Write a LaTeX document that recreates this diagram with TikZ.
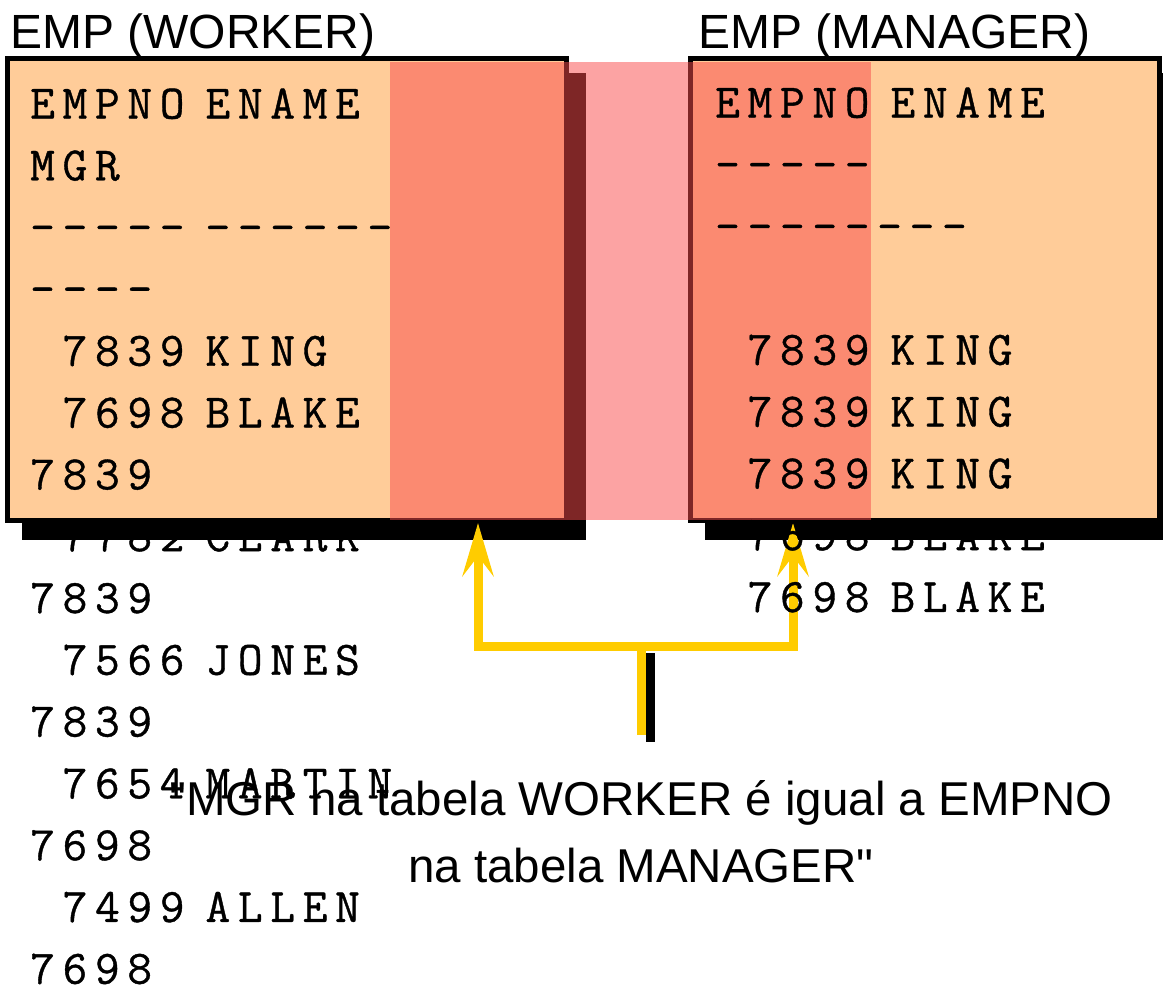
\documentclass[tikz,border=0pt]{standalone}
\usepackage{fontspec}
\setmainfont[Ligatures=TeXOff]{Liberation Sans}
\newfontfamily\sqlfont[LetterSpace=16,Ligatures=TeXOff,FakeBold=0.8]{Latin Modern Mono}
\usetikzlibrary{arrows.meta, shadows}

\definecolor{peach}{HTML}{FFCC99}
\definecolor{veilred}{RGB}{249,75,75}
\definecolor{linkyellow}{HTML}{FFCC00}

\begin{document}
\begin{tikzpicture}[
    x=1pt, y=-1pt,
    table/.style={rectangle, draw=black, line width=5pt, fill=peach, inner sep=0pt,
      drop shadow={shadow xshift=17pt, shadow yshift=-17pt, fill=black, draw=black, opacity=1}},
    title/.style={anchor=base west, inner sep=0pt, font=\fontsize{48}{58}\selectfont},
    rows/.style={anchor=base west, inner sep=0pt, font=\sqlfont\fontsize{48}{61.8}\selectfont},
    veil/.style={rectangle, draw=none, fill=veilred, fill opacity=0.51, inner sep=0pt},
    link/.style={draw=linkyellow, line width=9pt, -{Stealth[length=53pt, width=31pt, inset=20pt]}},
    stemshadow/.style={draw=black, line width=9pt},
    caption/.style={align=center, inner sep=0pt, font=\fontsize{47.5}{67}\selectfont}
  ]
    \useasboundingbox (0,0) rectangle (1163,986);

    \node[title] (workertitle) at (10,48) {EMP (WORKER)};
    \node[title] (managertitle) at (698,48) {EMP (MANAGER)};

    \node[table, minimum width=559pt, minimum height=462pt] (worker) at (287,289.5) {};
    \node[table, minimum width=469pt, minimum height=462pt] (manager) at (925,289.5) {};

    % join columns MGR = EMPNO
    \node[veil, minimum width=481pt, minimum height=458pt] (join) at (630.5,291) {};

    \coordinate (workerkey) at (478,523);
    \coordinate (managerkey) at (793,523);
    \coordinate (fork) at (641,646);
    \coordinate (stem) at (641,735);

    \draw[stemshadow] ([shift={(9pt,-7pt)}]fork) -- ([shift={(9pt,-7pt)}]stem);
    \draw[link] (stem) -- (fork) -| (workerkey);
    \draw[link] (fork) -| (managerkey);

    \node[rows] (workerrows) at (30,118.5) {\begin{tabular}[t]{@{}r@{\hspace{21pt}}l@{}}
      EMPNO & ENAME\\
      \multicolumn{2}{@{}l@{}}{MGR}\\
      ----- & ------\\
      \multicolumn{2}{@{}l@{}}{----}\\
      7839 & KING\\
      7698 & BLAKE\\
      \multicolumn{2}{@{}l@{}}{7839}\\
      7782 & CLARK\\
      \multicolumn{2}{@{}l@{}}{7839}\\
      7566 & JONES\\
      \multicolumn{2}{@{}l@{}}{7839}\\
      7654 & MARTIN\\
      \multicolumn{2}{@{}l@{}}{7698}\\
      7499 & ALLEN\\
      \multicolumn{2}{@{}l@{}}{7698}
    \end{tabular}};

    \node[rows] (managerrows) at (715,117.5) {\begin{tabular}[t]{@{}r@{\hspace{21pt}}l@{}}
      EMPNO & ENAME\\
      \multicolumn{2}{@{}l@{}}{-----}\\
      \multicolumn{2}{@{}l@{}}{--------}\\
      & \\
      7839 & KING\\
      7839 & KING\\
      7839 & KING\\
      7698 & BLAKE\\
      7698 & BLAKE
    \end{tabular}};

    \node[caption] (note) at (641,832) {"MGR na tabela WORKER é igual a EMPNO\\na tabela MANAGER"};
  \end{tikzpicture}
\end{document}
